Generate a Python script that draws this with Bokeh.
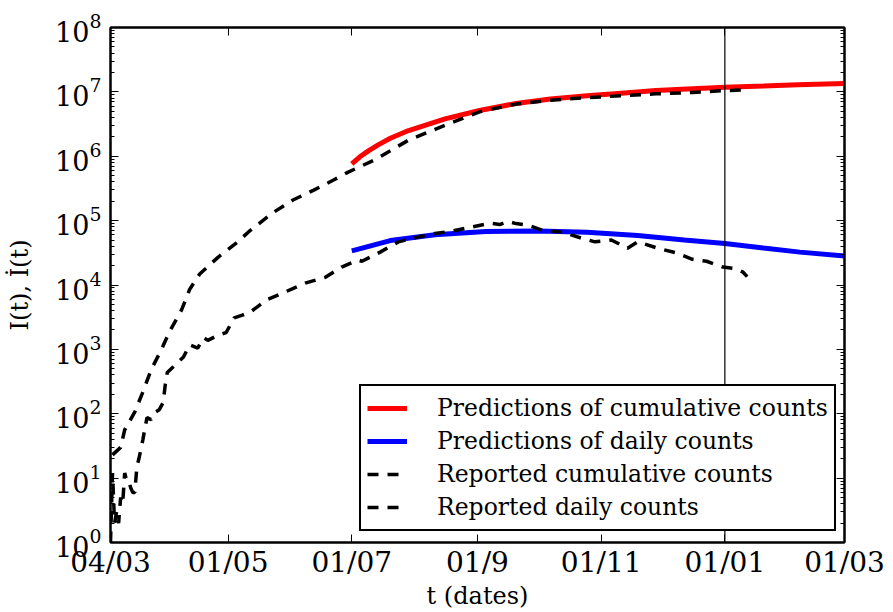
from datetime import datetime
from bokeh.plotting import figure
from bokeh.models import (Range1d, FixedTicker, LogAxis, LinearAxis, Span, Legend,
                          LegendItem, CustomJSTickFormatter)
from bokeh.embed import file_html
from bokeh.resources import INLINE

# ---------------- data ----------------
pred_cum_dates = ["2020-07-01", "2020-07-05", "2020-07-09", "2020-07-14", "2020-07-20",
                  "2020-07-29", "2020-08-16", "2020-09-02",
                  "2020-09-20", "2020-10-07", "2020-10-25", "2020-11-11", "2020-11-28",
                  "2020-12-16", "2021-01-01", "2021-01-20", "2021-02-06", "2021-03-01"]
pred_cum = [760000, 980000, 1200000, 1500000, 1900000, 2510000, 3800000, 5130000,
            6610000, 7760000, 8710000, 9550000, 10470000, 11220000, 11750000,
            12300000, 12880000, 13490000]

pred_daily_dates = ["2020-07-01", "2020-07-20", "2020-08-11", "2020-09-05", "2020-10-01",
                    "2020-10-25", "2020-11-19", "2020-12-12", "2021-01-01", "2021-01-20",
                    "2021-02-07", "2021-03-01"]
pred_daily = [33900, 49000, 60300, 67600, 69200, 66100, 58900, 50100, 44200, 37600,
              32400, 28200]

rep_cum_dates = ["2020-03-05", "2020-03-09", "2020-03-11", "2020-03-16", "2020-03-20",
                 "2020-03-24", "2020-03-29", "2020-04-02", "2020-04-08", "2020-04-12",
                 "2020-04-17", "2020-04-26", "2020-05-05", "2020-05-12", "2020-05-23",
                 "2020-06-02", "2020-06-12", "2020-06-22", "2020-06-29", "2020-07-12",
                 "2020-07-29", "2020-08-16", "2020-09-02", "2020-09-20", "2020-10-07",
                 "2020-10-25", "2020-11-11", "2020-11-28", "2020-12-16", "2021-01-01",
                 "2021-01-12"]
rep_cum = [23, 30, 56, 107, 219, 479, 977, 1860, 4070, 8500, 14800, 26900, 44700, 70800,
           132000, 209000, 295000, 427000, 562000, 871000, 1780000, 3020000, 4900000,
           6460000, 7410000, 8130000, 8710000, 9330000, 9770000, 10470000, 10720000]

rep_daily_dates = ["2020-03-04", "2020-03-05", "2020-03-06", "2020-03-07", "2020-03-08",
                   "2020-03-09", "2020-03-10", "2020-03-11", "2020-03-12", "2020-03-13",
                   "2020-03-14", "2020-03-15", "2020-03-16", "2020-03-17", "2020-03-18",
                   "2020-03-19", "2020-03-20", "2020-03-21", "2020-03-22", "2020-03-24",
                   "2020-03-26", "2020-03-28", "2020-03-30", "2020-03-31", "2020-04-01",
                   "2020-04-04", "2020-04-06", "2020-04-09", "2020-04-12", "2020-04-16",
                   "2020-04-19", "2020-04-21", "2020-04-26", "2020-04-30", "2020-05-04",
                   "2020-05-08", "2020-05-12", "2020-05-20", "2020-05-29", "2020-06-08",
                   "2020-06-18", "2020-06-26", "2020-07-04", "2020-07-06", "2020-07-15",
                   "2020-07-24", "2020-08-02", "2020-08-11", "2020-08-20", "2020-08-29",
                   "2020-09-07", "2020-09-12", "2020-09-16", "2020-09-20", "2020-09-26",
                   "2020-10-03", "2020-10-13", "2020-10-22", "2020-10-29", "2020-11-06",
                   "2020-11-14", "2020-11-19", "2020-11-29", "2020-12-08", "2020-12-16",
                   "2020-12-23", "2020-12-31", "2021-01-06", "2021-01-10", "2021-01-12"]
rep_daily = [1, 12, 2, 3, 2, 5, 4, 12, 9, 9, 7, 6, 6, 15, 20, 28, 40, 60, 87, 81, 105, 115,
             150, 282, 437, 537, 617, 759, 1175, 1047, 1514, 1380, 1660, 1820, 3090, 3400,
             3800, 5890, 7760, 10700, 13200, 19000, 24500, 23400, 32400, 46800, 55000,
             63100, 69200, 79400, 91200, 87000, 97000, 90000, 85000, 70800, 66100, 53700,
             46800, 50100, 37200, 46800, 37200, 31600, 25100, 23400, 19000, 18000, 15800,
             13500]

tick_dates = ["2020-03-04", "2020-05-01", "2020-07-01", "2020-09-01", "2020-11-01",
              "2021-01-01", "2021-03-01"]
tick_labels = ["04/03", "01/05", "01/07", "01/9", "01/11", "01/01", "01/03"]
marker_date = "2021-01-01"
x_start, x_end = "2020-03-04", "2021-03-01"

legend_labels = ["Predictions of cumulative counts", "Predictions of daily counts",
                 "Reported cumulative counts", "Reported daily counts"]

# ---------------- helpers ----------------
EPOCH = datetime(1970, 1, 1)


def d(s):
    return datetime.strptime(s, "%Y-%m-%d")


def ms(s):
    return (d(s) - EPOCH).total_seconds() * 1000.0


FONT = "DejaVu Serif"

p = figure(width=885, height=612, x_axis_type="datetime", y_axis_type="log",
           x_range=Range1d(d(x_start), d(x_end)), y_range=Range1d(1, 1e8),
           output_backend="svg", toolbar_location=None,
           min_border_left=110, min_border_right=41, min_border_top=27,
           min_border_bottom=40)
p.grid.visible = False
p.outline_line_color = "black"
p.outline_line_width = 2
p.background_fill_color = "white"
p.border_fill_color = "white"

# lines
r_red = p.line([d(s) for s in pred_cum_dates], pred_cum, line_color="red", line_width=5)
r_blue = p.line([d(s) for s in pred_daily_dates], pred_daily, line_color="blue", line_width=5)
r_cum = p.line([d(s) for s in rep_cum_dates], rep_cum, line_color="black", line_width=3.5,
               line_dash="11 9")
r_daily = p.line([d(s) for s in rep_daily_dates], rep_daily, line_color="black",
                 line_width=3.5, line_dash="11 9")

p.add_layout(Span(location=ms(marker_date), dimension="height", line_color="black",
                  line_width=1.2))

# x axis
tick_ms = [ms(s) for s in tick_dates]
xa = p.xaxis[0]
xa.ticker = FixedTicker(ticks=tick_ms)
xa.major_label_overrides = {t: lab for t, lab in zip(tick_ms, tick_labels)}
xa.axis_label = "t (dates)"
xa.axis_label_text_font_size = "24px"
xa.axis_label_standoff = 0
xa.major_label_text_font_size = "28px"
xa.major_label_standoff = 3

# y axis
major_y = [10.0 ** e for e in range(0, 9)]
minor_y = [k * 10.0 ** e for e in range(0, 8) for k in range(2, 10)]
ya = p.yaxis[0]
ya.ticker = FixedTicker(ticks=major_y, minor_ticks=minor_y)
ya.axis_label = "I(t), İ(t)"
ya.axis_label_text_font_size = "24px"
ya.axis_label_standoff = 18
ya.major_label_text_font_size = "27px"
ya.major_label_standoff = 9

for ax in [xa, ya]:
    ax.axis_label_text_font = FONT
    ax.axis_label_text_font_style = "normal"
    ax.axis_label_text_color = "black"
    ax.major_label_text_font = FONT

# mirrored axes
top = LinearAxis(ticker=FixedTicker(ticks=tick_ms),
                 formatter=CustomJSTickFormatter(code="return ''"))
right = LogAxis(ticker=FixedTicker(ticks=major_y, minor_ticks=minor_y),
                formatter=CustomJSTickFormatter(code="return ''"))
p.add_layout(top, "above")
p.add_layout(right, "right")

for ax in [xa, ya, top, right]:
    ax.axis_line_width = 2
    ax.axis_line_color = "black"
    ax.major_tick_in = 8
    ax.major_tick_out = 0
    ax.minor_tick_in = 4
    ax.minor_tick_out = 0
    ax.major_tick_line_color = "black"
    ax.minor_tick_line_color = "black"
    ax.major_label_text_color = "black"
for ax in [top, right]:
    ax.major_label_standoff = 0
    ax.major_label_text_font_size = "1px"

legend = Legend(items=[LegendItem(label=legend_labels[0], renderers=[r_red]),
                       LegendItem(label=legend_labels[1], renderers=[r_blue]),
                       LegendItem(label=legend_labels[2], renderers=[r_cum]),
                       LegendItem(label=legend_labels[3], renderers=[r_daily])],
                location=(249, 11), margin=0, padding=6, spacing=1,
                glyph_width=40, glyph_height=32, label_standoff=30,
                label_text_font=FONT, label_text_font_size="23.5px",
                label_text_color="black",
                border_line_color="black", border_line_width=2, border_line_alpha=1.0,
                background_fill_color="white", background_fill_alpha=1.0)
p.add_layout(legend, "center")

open("out.html", "w").write(file_html(p, INLINE))
